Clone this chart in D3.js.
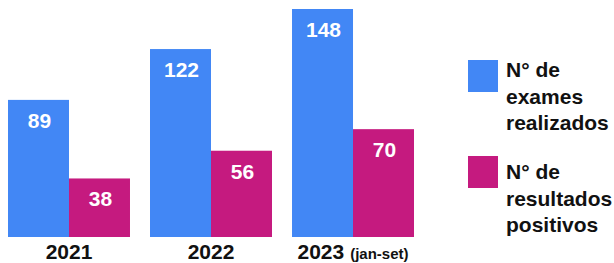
<!DOCTYPE html>
<html>
<head>
<meta charset="utf-8">
<script src="https://cdn.jsdelivr.net/npm/d3@7"></script>
<style>
  body { margin: 0; background: #fff; }
  svg { display: block; font-family: Arial, "Liberation Sans", sans-serif; }
</style>
</head>
<body>
<svg id="chart"></svg>
<script>
// years, sub-labels and the two series
const years = ["2021", "2022", "2023"];
const yearNotes = ["", "", "(jan-set)"];
const series = ["N° de exames realizados", "N° de resultados positivos"];
const exames = [89, 122, 148];
const positivos = [38, 56, 70];
const colors = ["#4287f5", "#c51a7f"];

const svgWidth = 614, svgHeight = 263;

const svg = d3.select("#chart")
    .attr("width", svgWidth)
    .attr("height", svgHeight);

const x0 = d3.scaleBand()
    .domain(years)
    .range([8, 414])
    .paddingInner(0.141);

const x1 = d3.scaleBand()
    .domain(series)
    .range([0, x0.bandwidth()]);

const y = d3.scaleLinear()
    .domain([0, 148])
    .range([237, 9]);

const rows = years.map((yr, i) => ({
    year: yr,
    values: [exames[i], positivos[i]].map((v, j) => ({ key: series[j], value: v, color: colors[j] }))
}));

const groups = svg.selectAll("g.year")
    .data(rows)
    .join("g")
    .attr("class", "year")
    .attr("transform", d => `translate(${x0(d.year)},0)`);

groups.selectAll("rect")
    .data(d => d.values)
    .join("rect")
    .attr("x", d => x1(d.key))
    .attr("y", d => y(d.value))
    .attr("width", x1.bandwidth())
    .attr("height", d => y(0) - y(d.value))
    .attr("fill", d => d.color);

groups.selectAll("text.val")
    .data(d => d.values)
    .join("text")
    .attr("class", "val")
    .attr("x", d => x1(d.key) + x1.bandwidth() / 2 + 1)
    .attr("y", d => y(d.value) + 28)
    .attr("text-anchor", "middle")
    .attr("fill", "#fff")
    .attr("font-weight", "bold")
    .attr("font-size", 21)
    .text(d => d.value);

// year labels under the groups
const xl = svg.selectAll("text.xlab")
    .data(years)
    .join("text")
    .attr("class", "xlab")
    .attr("x", d => x0(d) + x0.bandwidth() / 2)
    .attr("y", 259)
    .attr("text-anchor", "middle")
    .attr("font-weight", "bold")
    .attr("fill", "#111");

xl.append("tspan")
    .attr("font-size", 21)
    .text(d => d);

xl.filter((d, i) => yearNotes[i])
    .append("tspan")
    .attr("font-size", 15)
    .attr("dx", 6)
    .text(d => yearNotes[years.indexOf(d)]);

// legend
const legendLines = [["N° de", "exames", "realizados"], ["N° de", "resultados", "positivos"]];
const legend = svg.selectAll("g.legend")
    .data(series)
    .join("g")
    .attr("class", "legend")
    .attr("transform", (d, i) => `translate(468,${60 + i * 96})`);

legend.append("rect")
    .attr("width", 30)
    .attr("height", 32)
    .attr("fill", (d, i) => colors[i]);

legend.append("text")
    .attr("font-weight", "bold")
    .attr("font-size", 21)
    .attr("fill", "#111")
    .attr("data-i", (d, i) => i)
    .selectAll("tspan")
    .data((d, i) => legendLines[i].map(t => ({ t, k: i })))
    .join("tspan")
    .attr("x", 38)
    .attr("y", (d, j) => 17 + d.k * 6 + j * 26.5)
    .text(d => d.t);
</script>
</body>
</html>
